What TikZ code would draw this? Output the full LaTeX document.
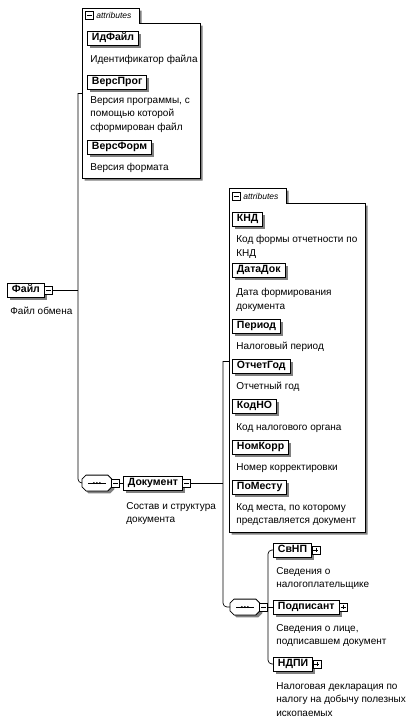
\documentclass[tikz,border=0pt]{standalone}
\usepackage{fontspec}
\setmainfont{Liberation Sans}
\usetikzlibrary{shadows}
\begin{document}
\begin{tikzpicture}[x=1pt,y=-1pt,
  line width=0.8pt,
  shd/.style={general shadow={fill=black!50, shadow xshift=2.5pt, shadow yshift=-2.5pt}},
  elem/.style={draw, fill=white, shd, font=\bfseries\fontsize{10.5}{12}\selectfont, minimum height=14pt, inner xsep=4.5pt, inner ysep=0pt, text height=7.6pt, text depth=2pt, anchor=west, line width=0.9pt},
  icobase/.style={draw, fill=white, line width=0.6pt, minimum size=8pt, inner sep=0pt, anchor=west},
  minusico/.style={icobase, path picture={\draw[line width=0.6pt] ([xshift=1.6pt]path picture bounding box.west) -- ([xshift=-1.6pt]path picture bounding box.east);}},
  plusico/.style={icobase, path picture={\draw[line width=0.6pt] ([xshift=1.6pt]path picture bounding box.west) -- ([xshift=-1.6pt]path picture bounding box.east); \draw[line width=0.6pt] ([yshift=-1.6pt]path picture bounding box.north) -- ([yshift=1.6pt]path picture bounding box.south);}},
  desc/.style={font=\fontsize{10}{13.5}\selectfont, align=left, inner sep=0pt, anchor=north west},
  seqbox/.style={rectangle, minimum width=29pt, minimum height=15pt, inner sep=0pt, anchor=west},
  octo/.style={draw, fill=white, shd, line width=0.8pt},
  conn/.style={line width=0.7pt},
  grp/.style={draw, fill=white, line width=0.7pt},
  tabtxt/.style={font=\itshape\fontsize{8.5}{10}\selectfont, inner sep=0pt, anchor=west}
]
\useasboundingbox (0,0) rectangle (418,723);

% ---- attribute group 1
\draw[grp, shd] (82,8) -- (139,8) -- (139,23) -- (200,23) -- (200,178) -- (82,178) -- cycle;
\node[minusico] (g1m) at (85,15.5) {};
\node[tabtxt] (g1t) at (96,15.5) {attributes};
\coordinate (g1att) at (82,93);

\node[elem] (idf) at (87,38) {ИдФайл};
\node[desc] (idfd) at (90,55) {Идентификатор файла};
\node[elem] (vprog) at (87,82) {ВерсПрог};
\node[desc] (vprogd) at (90,96) {Версия программы, с\\помощью которой\\сформирован файл};
\node[elem] (vform) at (87,147) {ВерсФорм};
\node[desc] (vformd) at (90,163) {Версия формата};

% ---- attribute group 2
\draw[grp, shd] (229,188) -- (286,188) -- (286,203) -- (365,203) -- (365,532) -- (229,532) -- cycle;
\node[minusico] (g2m) at (232,196) {};
\node[tabtxt] (g2t) at (243,196) {attributes};
\coordinate (g2att) at (229,361);

\node[elem] (knd) at (232,219) {КНД};
\node[desc] (kndd) at (236,235) {Код формы отчетности по\\КНД};
\node[elem] (datadok) at (232,270) {ДатаДок};
\node[desc] (datadokd) at (236,288) {Дата формирования\\документа};
\node[elem] (period) at (232,326) {Период};
\node[desc] (periodd) at (236,342) {Налоговый период};
\node[elem] (otchgod) at (232,366) {ОтчетГод};
\node[desc] (otchgodd) at (236,382) {Отчетный год};
\node[elem] (kodno) at (232,406) {КодНО};
\node[desc] (kodnod) at (236,423) {Код налогового органа};
\node[elem] (nomkorr) at (232,447) {НомКорр};
\node[desc] (nomkorrd) at (236,463) {Номер корректировки};
\node[elem] (pomestu) at (232,487) {ПоМесту};
\node[desc] (pomestud) at (236,503) {Код места, по которому\\представляется документ};

% ---- root
\node[elem] (fayl) at (7,290) {Файл};
\node[minusico] (faylI) at ([xshift=-0.5pt]fayl.east) {};
\node[desc] (fayld) at (10,307) {Файл обмена};

% ---- sequence symbols
\foreach \s/\p in {seq1/{(82,483)}, seq2/{(230,607)}} {
  \node[seqbox] (\s) at \p {};
  \draw[octo] ([xshift=4pt]\s.north west) -- ([xshift=-4pt]\s.north east) -- ([yshift=-4pt]\s.north east)
     -- ([yshift=4pt]\s.south east) -- ([xshift=-4pt]\s.south east) -- ([xshift=4pt]\s.south west)
     -- ([yshift=4pt]\s.south west) -- ([yshift=-4pt]\s.north west) -- cycle;
  \draw[line width=0.6pt] ([xshift=6pt]\s.west) -- ([xshift=-6pt]\s.east);
  \fill ([xshift=-3pt]\s.center) circle (1.1pt);
  \fill (\s.center) circle (1.1pt);
  \fill ([xshift=3pt]\s.center) circle (1.1pt);
}

% ---- Документ
\node[minusico] (seq1I) at ([xshift=-0.5pt]seq1.east) {};
\node[elem] (doc) at (123,483) {Документ};
\node[minusico] (docI) at ([xshift=-0.5pt]doc.east) {};
\node[desc] (docd) at (126,502) {Состав и структура\\документа};

% ---- children of Документ
\node[minusico] (seq2I) at ([xshift=-0.5pt]seq2.east) {};

\node[elem] (svnp) at (273,550) {СвНП};
\node[plusico] (svnpI) at ([xshift=-0.5pt]svnp.east) {};
\node[desc] (svnpd) at (276,567) {Сведения о\\налогоплательщике};
\node[elem] (pod) at (273,607) {Подписант};
\node[plusico] (podI) at ([xshift=-0.5pt]pod.east) {};
\node[desc] (podd) at (276,624) {Сведения о лице,\\подписавшем документ};
\node[elem] (ndpi) at (273,664) {НДПИ};
\node[plusico] (ndpiI) at ([xshift=-0.5pt]ndpi.east) {};
\node[desc] (ndpid) at (276,682) {Налоговая декларация по\\налогу на добычу полезных\\ископаемых};

% ---- connectors
\coordinate (trunkA) at (78,93);
\coordinate (trunkB) at (223,361);
\draw[conn] (faylI.east) -- (faylI.east -| trunkA);
\draw[conn] (g1att) -- (trunkA);
\draw[conn, rounded corners=4pt] (trunkA) |- (seq1.west);
\draw[conn] (seq1I.east) -- (doc.west);
\draw[conn] (docI.east) -- (docI.east -| trunkB);
\draw[conn] (g2att) -- (trunkB);
\draw[conn, rounded corners=4pt] (trunkB) |- (seq2.west);
\draw[conn] (seq2I.east) -- (pod.west);
\draw[conn, rounded corners=4pt] (svnp.west) -- ++(-5,0) |- (ndpi.west);
\end{tikzpicture}
\end{document}
